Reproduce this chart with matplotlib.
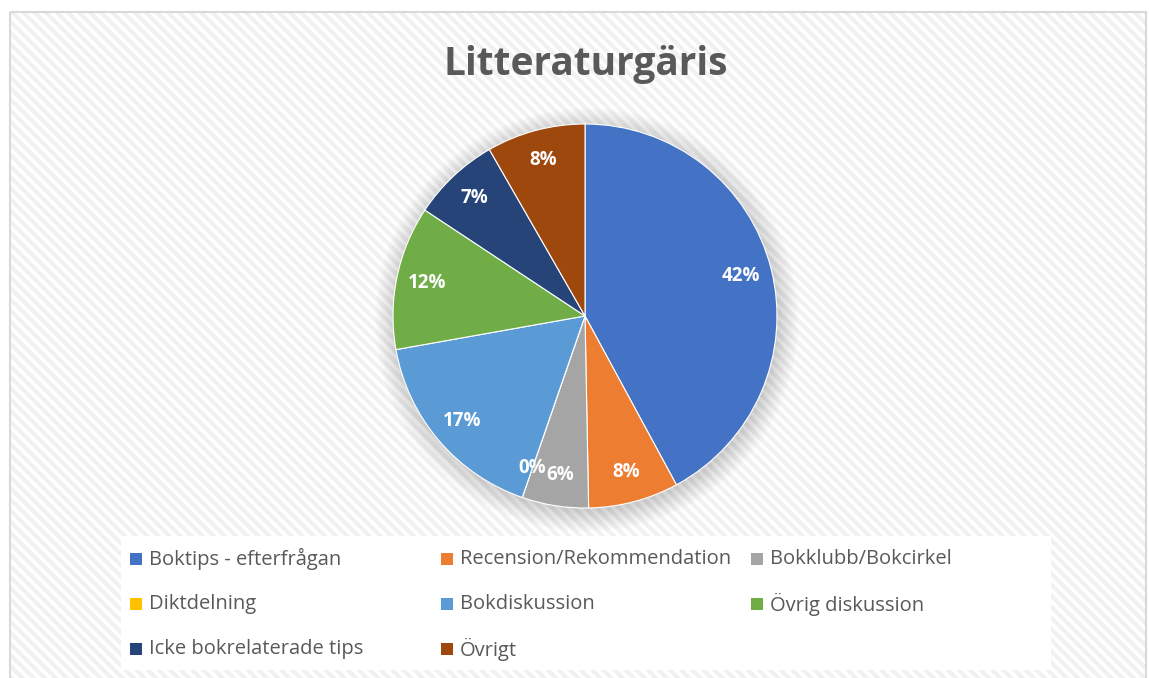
import matplotlib
matplotlib.use('Agg')
import matplotlib.pyplot as plt
from matplotlib.patches import Rectangle, Circle

# data (share in %)
CATEGORIES = ['Boktips - efterfrågan', 'Recension/Rekommendation', 'Bokklubb/Bokcirkel',
              'Diktdelning', 'Bokdiskussion', 'Övrig diskussion',
              'Icke bokrelaterade tips', 'Övrigt']
SHARES = [42.1, 7.6, 5.6, 0.0, 16.9, 12.1, 7.4, 8.3]
COLORS = ['#4472C4', '#ED7D31', '#A5A5A5', '#FFC000', '#5B9BD5', '#70AD47',
          '#264478', '#9E480E']
TITLE = 'Litteraturgäris'

W, H = 1149, 678
plt.rcParams['hatch.linewidth'] = 3.0
fig = plt.figure(figsize=(W / 100, H / 100), dpi=100)
fig.patch.set_facecolor('white')

# chart area with diagonal stripes
bg = fig.add_axes([0, 0, 1, 1], zorder=0)
bg.set_xlim(0, W)
bg.set_ylim(H, 0)
bg.axis('off')
bg.add_patch(Rectangle((10, 12), W - 13, H, facecolor='white', edgecolor='#f1f1f1',
                       lw=0, hatch='\\\\\\'))
bg.add_patch(Rectangle((10, 12), W - 13, H, facecolor='none', edgecolor='#d9d9d9', lw=1.5))
# legend box
bg.add_patch(Rectangle((121, 536), 930, 134, facecolor='white', edgecolor='none'))

fig.text(586 / W, 1 - 64 / H, TITLE, ha='center', va='center', fontsize=28,
         fontweight='bold', color='#595959', family='Open Sans')

# pie
cx, cy, r = 585, 316, 192
lim = 1.2
half = r * lim
ax = fig.add_axes([(cx - half) / W, (H - cy - half) / H, 2 * half / W, 2 * half / H], zorder=1)
ax.set_xlim(-lim, lim)
ax.set_ylim(-lim, lim)
ax.axis('off')

# soft shadow
for k in range(14):
    ax.add_patch(Circle((0.01, -0.02), 1.0 + 0.008 * k, facecolor='#000000',
                        alpha=0.011, edgecolor='none', zorder=0))

wedges, texts, autotexts = ax.pie(SHARES, colors=COLORS, startangle=90, counterclock=False,
                                  autopct='%.0f%%', pctdistance=0.84, radius=1,
                                  wedgeprops=dict(linewidth=0.8, edgecolor='white'),
                                  textprops=dict(color='white', fontsize=13.5,
                                                 fontweight='bold', family='Open Sans'))
ax.set_xlim(-lim, lim)
ax.set_ylim(-lim, lim)
ax.set_aspect('auto')

# legend, filled row by row like the spreadsheet
col_x = [130, 441, 751]
row_y = [559, 604, 649]
for i, (name, col) in enumerate(zip(CATEGORIES, COLORS)):
    x = col_x[i % 3]
    y = row_y[i // 3]
    bg.add_patch(Rectangle((x, y - 6), 12, 12, facecolor=col, edgecolor='none'))
    bg.text(x + 19, y, name, ha='left', va='center', fontsize=14.5, color='#595959',
            family='Open Sans')

fig.savefig('out.png', dpi=100)
